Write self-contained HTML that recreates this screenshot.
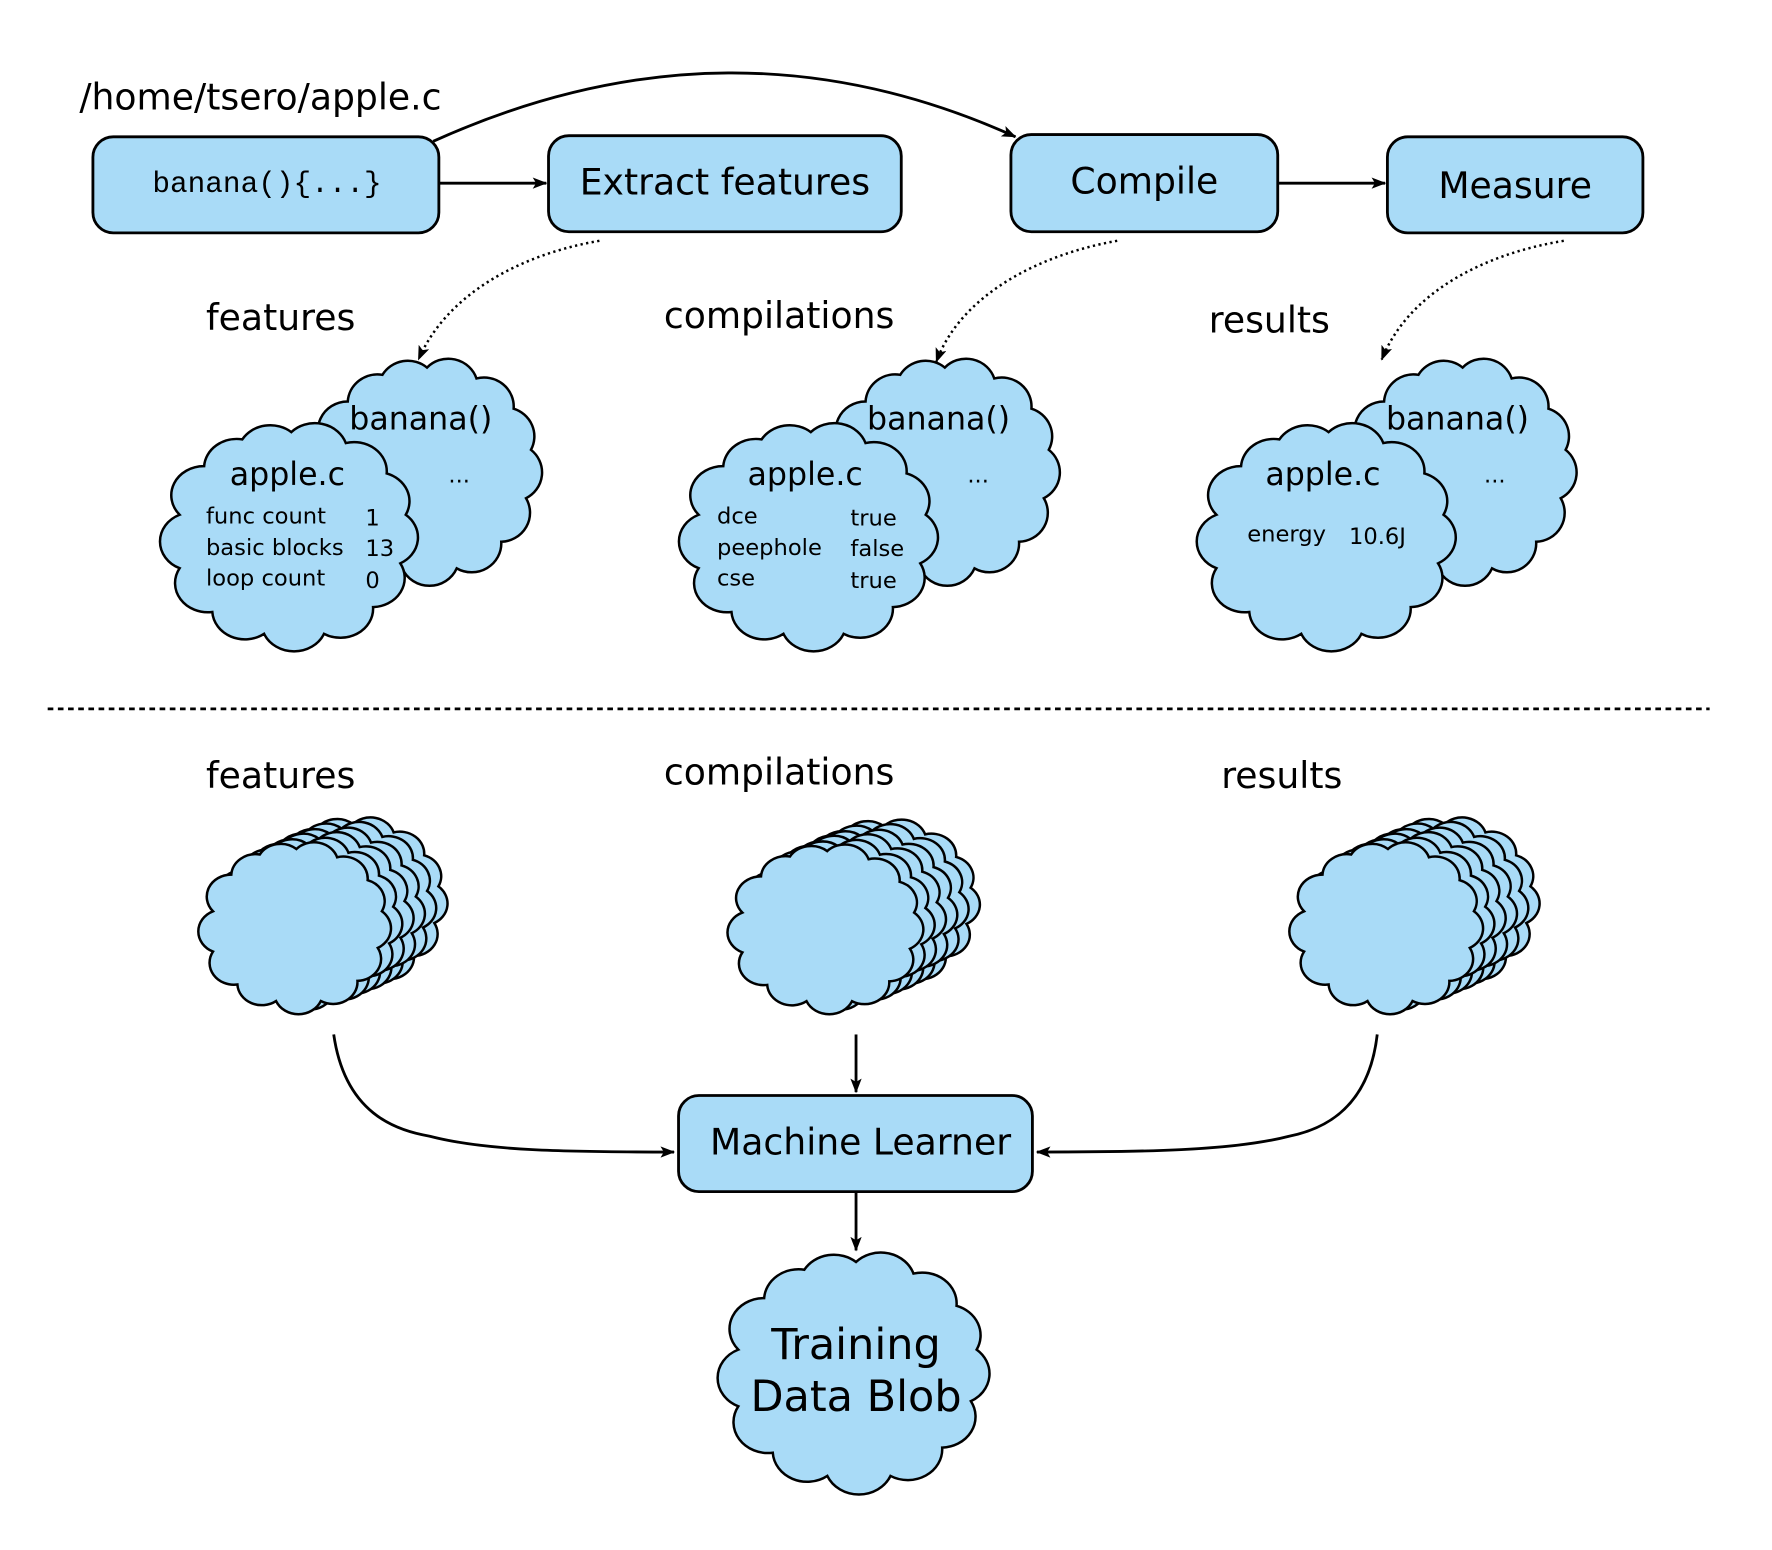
<!DOCTYPE html>
<html><head><meta charset="utf-8"><style>
html,body{margin:0;padding:0;background:#fff}
svg{display:block}
text{font-family:"DejaVu Sans","Liberation Sans",sans-serif;fill:#000}
text.mono{font-family:"Liberation Mono","DejaVu Sans Mono",monospace}
</style></head><body>
<svg width="1772" height="1550" viewBox="0 0 1567 1371" xmlns="http://www.w3.org/2000/svg">
<defs>
<path id="cl" vector-effect="non-scaling-stroke" fill="#a9dbf7" stroke="#000" stroke-width="2.5" d="M50 8 A12 12 0 0 1 70 12.5 A12 12 0 0 1 85 25 A12 12 0 0 1 92 42 A12 12 0 0 1 90 62 A12 12 0 0 1 80 80 A12 12 0 0 1 62 91 A12 12 0 0 1 40 91 A12 12 0 0 1 21 82 A12 12 0 0 1 9 64 A12 12 0 0 1 9 42 A12 12 0 0 1 18 22 A12 12 0 0 1 32 11 A12 12 0 0 1 50 8 Z"/>
<marker id="ah" markerWidth="14" markerHeight="10" refX="12" refY="5" orient="auto" markerUnits="userSpaceOnUse"><path d="M0 0 L13 5 L0 10 L3 5 Z" fill="#000"/></marker>
</defs>
<style>.bx{fill:#a9dbf7;stroke:#000;stroke-width:2.5}.ln{fill:none;stroke:#000;stroke-width:2.5}.dt{fill:none;stroke:#000;stroke-width:2.2;stroke-dasharray:2 3}</style>

<text x="70" y="97" font-size="32">/home/tsero/apple.c</text>
<rect class="bx" x="82" y="121" width="306" height="85" rx="18"/>
<text class="mono" x="236" y="170" font-size="26" text-anchor="middle">banana(){...}</text>
<rect class="bx" x="485" y="120" width="312" height="85" rx="18"/>
<text x="641" y="172" font-size="32" text-anchor="middle">Extract features</text>
<rect class="bx" x="894" y="119" width="236" height="86" rx="18"/>
<text x="1012" y="171" font-size="32" text-anchor="middle">Compile</text>
<rect class="bx" x="1227" y="121" width="226" height="85" rx="18"/>
<text x="1340" y="175" font-size="32" text-anchor="middle">Measure</text>
<line class="ln" x1="388" y1="162" x2="483" y2="162" marker-end="url(#ah)"/>
<line class="ln" x1="1130" y1="162" x2="1225" y2="162" marker-end="url(#ah)"/>
<path class="ln" d="M383 125 C560 45 730 45 898 121" marker-end="url(#ah)"/>

<path class="dt" d="M530 213 C460 225 395 260 370 318" marker-end="url(#ah)"/>
<path class="dt" d="M988 213 C920 225 850 260 828 320" marker-end="url(#ah)"/>
<path class="dt" d="M1383 213 C1310 225 1245 260 1222 318" marker-end="url(#ah)"/>

<text x="182" y="292" font-size="32">features</text>
<text x="587" y="290" font-size="32">compilations</text>
<text x="1069" y="294" font-size="32">results</text>

<use href="#cl" transform="translate(268,308) scale(2.19,2.14)"/>
<text x="372" y="380" font-size="28" text-anchor="middle">banana()</text>
<text x="406" y="427" font-size="20" text-anchor="middle">...</text>
<use href="#cl" transform="translate(137,365) scale(2.41,2.15)"/>
<text x="254" y="429" font-size="28" text-anchor="middle">apple.c</text>
<g font-size="20"><text x="182" y="463">func count</text><text x="323" y="465">1</text>
<text x="182" y="491">basic blocks</text><text x="323" y="492">13</text>
<text x="182" y="518">loop count</text><text x="323" y="520">0</text></g>

<use href="#cl" transform="translate(726,308) scale(2.19,2.14)"/>
<text x="830" y="380" font-size="28" text-anchor="middle">banana()</text>
<text x="865" y="427" font-size="20" text-anchor="middle">...</text>
<use href="#cl" transform="translate(596,365) scale(2.42,2.15)"/>
<text x="712" y="429" font-size="28" text-anchor="middle">apple.c</text>
<g font-size="20"><text x="634" y="463">dce</text><text x="752" y="465">true</text>
<text x="634" y="491">peephole</text><text x="752" y="492">false</text>
<text x="634" y="518">cse</text><text x="752" y="520">true</text></g>

<use href="#cl" transform="translate(1185,308) scale(2.17,2.14)"/>
<text x="1289" y="380" font-size="28" text-anchor="middle">banana()</text>
<text x="1322" y="427" font-size="20" text-anchor="middle">...</text>
<use href="#cl" transform="translate(1054,365) scale(2.42,2.15)"/>
<text x="1170" y="429" font-size="28" text-anchor="middle">apple.c</text>
<g font-size="20"><text x="1103" y="479">energy</text><text x="1193" y="481">10.6J</text></g>

<line x1="42" y1="627" x2="1512" y2="627" stroke="#000" stroke-width="2.5" stroke-dasharray="5 4"/>

<text x="182" y="697" font-size="32">features</text>
<text x="587" y="694" font-size="32">compilations</text>
<text x="1080" y="697" font-size="32">results</text>

<g>
<use href="#cl" transform="translate(222,716) scale(1.8,1.62)"/>
<use href="#cl" transform="translate(212,720) scale(1.8,1.62)"/>
<use href="#cl" transform="translate(202,725) scale(1.8,1.62)"/>
<use href="#cl" transform="translate(192,729) scale(1.8,1.62)"/>
<use href="#cl" transform="translate(182,734) scale(1.8,1.62)"/>
<use href="#cl" transform="translate(172,738) scale(1.8,1.62)"/>
</g>
<g>
<use href="#cl" transform="translate(690,718) scale(1.83,1.6)"/>
<use href="#cl" transform="translate(680,722) scale(1.83,1.6)"/>
<use href="#cl" transform="translate(670,727) scale(1.83,1.6)"/>
<use href="#cl" transform="translate(660,731) scale(1.83,1.6)"/>
<use href="#cl" transform="translate(650,736) scale(1.83,1.6)"/>
<use href="#cl" transform="translate(640,740) scale(1.83,1.6)"/>
</g>
<g>
<use href="#cl" transform="translate(1187,716) scale(1.81,1.62)"/>
<use href="#cl" transform="translate(1177,720) scale(1.81,1.62)"/>
<use href="#cl" transform="translate(1167,725) scale(1.81,1.62)"/>
<use href="#cl" transform="translate(1157,729) scale(1.81,1.62)"/>
<use href="#cl" transform="translate(1147,734) scale(1.81,1.62)"/>
<use href="#cl" transform="translate(1137,738) scale(1.81,1.62)"/>
</g>

<path class="ln" d="M295 915 C305 985 350 1000 380 1005 C430 1018 500 1019 596 1019" marker-end="url(#ah)"/>
<line class="ln" x1="757" y1="915" x2="757" y2="966" stroke-width="2" marker-end="url(#ah)"/>
<path class="ln" d="M1218 915 C1210 985 1165 1000 1140 1005 C1090 1018 1010 1019 917 1019" marker-end="url(#ah)"/>

<rect class="bx" x="600" y="969" width="313" height="85" rx="18"/>
<text x="761" y="1021" font-size="32" text-anchor="middle">Machine Learner</text>
<line class="ln" x1="757" y1="1054" x2="757" y2="1106" stroke-width="2" marker-end="url(#ah)"/>

<use href="#cl" transform="translate(630,1098) scale(2.54,2.28)"/>
<text x="757" y="1202" font-size="38" text-anchor="middle">Training</text>
<text x="757" y="1248" font-size="38" text-anchor="middle">Data Blob</text>
</svg>
</body></html>
